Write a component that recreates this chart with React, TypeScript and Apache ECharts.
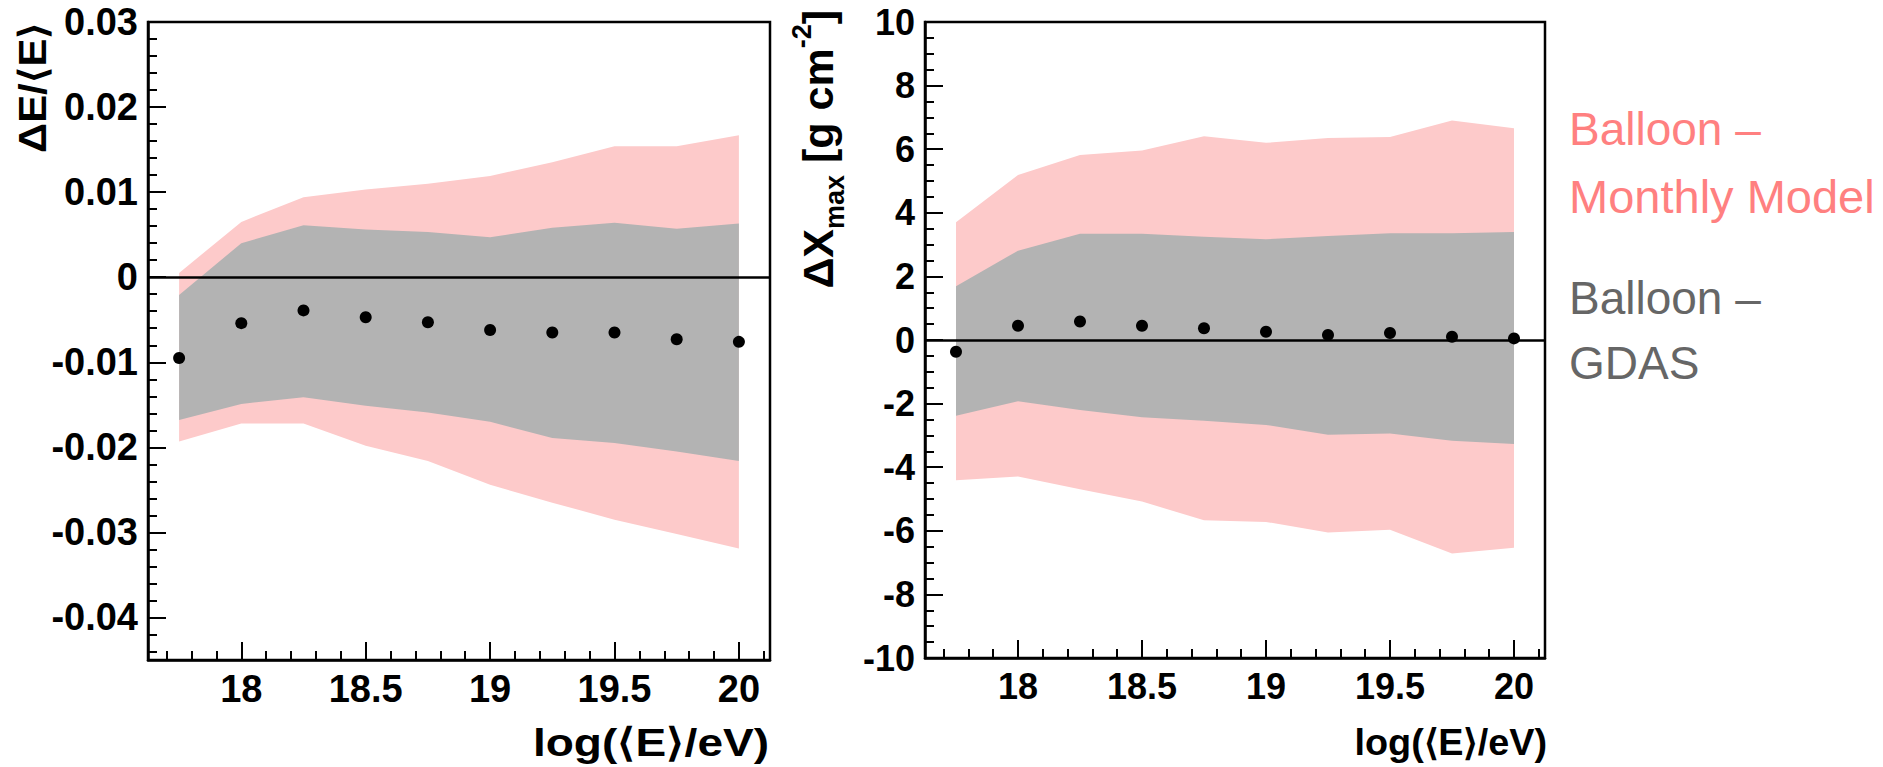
import React, { useEffect, useRef } from "react";
import * as echarts from "echarts";

// log(<E>/eV) bin centres
const energies = [17.75, 18, 18.25, 18.5, 18.75, 19, 19.25, 19.5, 19.75, 20];

// Left panel: ΔE/<E>
const dEMonthlyUpper = [0.0005, 0.0065, 0.0094, 0.0103, 0.011, 0.0119, 0.0135, 0.0154, 0.0154, 0.0167];
const dEMonthlyLower = [-0.0193, -0.0172, -0.0172, -0.0198, -0.0216, -0.0244, -0.0265, -0.0285, -0.0302, -0.0319];
const dEGdasUpper = [-0.0021, 0.004, 0.0061, 0.0056, 0.0053, 0.0047, 0.0058, 0.0064, 0.0057, 0.0063];
const dEGdasLower = [-0.0168, -0.0149, -0.0141, -0.0151, -0.0159, -0.017, -0.0189, -0.0195, -0.0205, -0.0216];
const dEMean = [-0.0095, -0.0054, -0.0039, -0.0047, -0.0053, -0.0062, -0.0065, -0.0065, -0.0073, -0.0076];

// Right panel: ΔXmax [g cm^-2]
const dXMonthlyUpper = [3.7, 5.19, 5.82, 5.96, 6.41, 6.2, 6.35, 6.38, 6.9, 6.66];
const dXMonthlyLower = [-4.41, -4.29, -4.69, -5.08, -5.67, -5.72, -6.05, -5.97, -6.71, -6.53];
const dXGdasUpper = [1.69, 2.81, 3.34, 3.34, 3.25, 3.17, 3.27, 3.36, 3.36, 3.4];
const dXGdasLower = [-2.38, -1.93, -2.2, -2.43, -2.54, -2.67, -2.98, -2.94, -3.17, -3.27];
const dXMean = [-0.37, 0.45, 0.58, 0.45, 0.37, 0.26, 0.16, 0.22, 0.1, 0.05];

// Tick labels
const xMajorTicks = [18, 18.5, 19, 19.5, 20];
const dEMajorTicks = [-0.04, -0.03, -0.02, -0.01, 0, 0.01, 0.02, 0.03];
const dXMajorTicks = [-10, -8, -6, -4, -2, 0, 2, 4, 6, 8, 10];

const X_MIN = 17.625;
const X_MAX = 20.125;

function minorTicks(from: number, to: number, step: number, majors: number[]) {
  const out: number[] = [];
  const n = Math.round((to - from) / step);
  for (let k = 0; k <= n; k++) {
    const v = Math.round((from + k * step) * 1e6) / 1e6;
    if (!majors.some((m) => Math.abs(m - v) < 1e-9)) out.push(v);
  }
  return out;
}

const xMinorTicks = minorTicks(17.7, 20.1, 0.1, xMajorTicks);
const dEMinorTicks = minorTicks(-0.044, 0.028, 0.002, dEMajorTicks);
const dXMinorTicks = minorTicks(-9.5, 9.5, 0.5, dXMajorTicks);

const FONT = "'Liberation Sans', Arial, Helvetica, sans-serif";
const PINK = "#fdcaca";
const GREY = "#b3b3b3";

function xAxes(gridIndex: number, fontSize: number) {
  const common = {
    type: "value",
    gridIndex,
    min: X_MIN,
    max: X_MAX,
    position: "bottom",
    splitLine: { show: false },
    minorTick: { show: false },
  };
  return [
    {
      ...common,
      axisLine: { show: true, onZero: false, lineStyle: { color: "#000", width: 2.5 } },
      axisTick: { show: true, inside: true, length: 18, customValues: xMajorTicks, lineStyle: { color: "#000", width: 2 } },
      axisLabel: {
        show: true,
        customValues: xMajorTicks,
        margin: 10,
        fontSize,
        fontWeight: "bold",
        fontFamily: FONT,
        color: "#000",
        formatter: (v: number) => String(v),
      },
    },
    {
      ...common,
      axisLine: { show: false, onZero: false },
      axisTick: { show: true, inside: true, length: 9, customValues: xMinorTicks, lineStyle: { color: "#000", width: 2 } },
      axisLabel: { show: false },
    },
  ];
}

function yAxes(gridIndex: number, min: number, max: number, majors: number[], minors: number[], fontSize: number) {
  const common = {
    type: "value",
    gridIndex,
    min,
    max,
    position: "left",
    splitLine: { show: false },
    minorTick: { show: false },
  };
  return [
    {
      ...common,
      axisLine: { show: true, onZero: false, lineStyle: { color: "#000", width: 2.5 } },
      axisTick: { show: true, inside: true, length: 18, customValues: majors, lineStyle: { color: "#000", width: 2 } },
      axisLabel: {
        show: true,
        customValues: majors,
        margin: 10,
        fontSize,
        fontWeight: "bold",
        fontFamily: FONT,
        color: "#000",
        formatter: (v: number) => String(v),
      },
    },
    {
      ...common,
      axisLine: { show: false, onZero: false },
      axisTick: { show: true, inside: true, length: 9, customValues: minors, lineStyle: { color: "#000", width: 2 } },
      axisLabel: { show: false },
    },
  ];
}

function band(name: string, xi: number, yi: number, lo: number[], hi: number[], color: string, z: number) {
  return {
    type: "custom",
    name,
    xAxisIndex: xi,
    yAxisIndex: yi,
    silent: true,
    z,
    data: energies.map((x, i) => [x, lo[i], hi[i]]),
    encode: { x: 0, y: [1, 2] },
    renderItem: (params: any, api: any) => {
      if (params.dataIndex !== 0) return null;
      const pts: number[][] = [];
      for (let i = 0; i < energies.length; i++) pts.push(api.coord([energies[i], hi[i]]));
      for (let i = energies.length - 1; i >= 0; i--) pts.push(api.coord([energies[i], lo[i]]));
      return { type: "polygon", shape: { points: pts }, style: { fill: color } };
    },
  };
}

function points(name: string, xi: number, yi: number, vals: number[]) {
  return {
    type: "scatter",
    name,
    xAxisIndex: xi,
    yAxisIndex: yi,
    z: 5,
    symbol: "circle",
    symbolSize: 12,
    itemStyle: { color: "#000", opacity: 1 },
    data: energies.map((x, i) => [x, vals[i]]),
    markLine: {
      silent: true,
      symbol: ["none", "none"],
      label: { show: false },
      lineStyle: { color: "#000", width: 2.5, type: "solid", opacity: 1 },
      data: [{ yAxis: 0 }],
    },
  };
}

export default function App() {
  const ref = useRef<HTMLDivElement>(null);

  useEffect(() => {
    if (!ref.current) return;
    const chart = echarts.init(ref.current, undefined, { renderer: "svg" });

    const option: any = {
      animation: false,
      backgroundColor: "#fff",
      grid: [
        { left: 148, top: 22, width: 622, height: 638, show: true, borderColor: "#000", borderWidth: 2.5, containLabel: false, outerBoundsMode: "none" },
        { left: 925, top: 22, width: 620, height: 636, show: true, borderColor: "#000", borderWidth: 2.5, containLabel: false, outerBoundsMode: "none" },
      ],
      xAxis: [...xAxes(0, 38), ...xAxes(1, 36)],
      yAxis: [
        ...yAxes(0, -0.045, 0.03, dEMajorTicks, dEMinorTicks, 38),
        ...yAxes(1, -10, 10, dXMajorTicks, dXMinorTicks, 36),
      ],
      series: [
        band("Balloon – Monthly Model", 0, 0, dEMonthlyLower, dEMonthlyUpper, PINK, 1),
        band("Balloon – GDAS", 0, 0, dEGdasLower, dEGdasUpper, GREY, 2),
        points("ΔE/⟨E⟩", 0, 0, dEMean),
        band("Balloon – Monthly Model", 2, 2, dXMonthlyLower, dXMonthlyUpper, PINK, 1),
        band("Balloon – GDAS", 2, 2, dXGdasLower, dXGdasUpper, GREY, 2),
        points("ΔXmax", 2, 2, dXMean),
      ],
      graphic: [
        {
          type: "text",
          x: 33,
          y: 22,
          rotation: Math.PI / 2,
          scaleX: 1.1,
          style: { text: "ΔE/⟨E⟩", fontSize: 38, fontWeight: "bold", fontFamily: FONT, fill: "#000", align: "right", verticalAlign: "middle" },
        },
        {
          type: "text",
          x: 769,
          y: 742,
          scaleX: 1.18,
          style: { text: "log(⟨E⟩/eV)", fontSize: 39, fontWeight: "bold", fontFamily: FONT, fill: "#000", align: "right", verticalAlign: "middle" },
        },
        {
          type: "text",
          x: 1547,
          y: 743,
          scaleX: 1.05,
          style: { text: "log(⟨E⟩/eV)", fontSize: 36, fontWeight: "bold", fontFamily: FONT, fill: "#000", align: "right", verticalAlign: "middle" },
        },
        {
          type: "text",
          x: 818,
          y: 10,
          rotation: Math.PI / 2,
          style: {
            text: "{m|ΔX}{s|max}{m| [g cm}{p|-2}{m|]}",
            align: "right",
            verticalAlign: "middle",
            fill: "#000",
            rich: {
              m: { fontSize: 43, fontWeight: "bold", fontFamily: FONT, fill: "#000", lineHeight: 60 },
              s: { fontSize: 27, fontWeight: "bold", fontFamily: FONT, fill: "#000", lineHeight: 27, verticalAlign: "bottom" },
              p: { fontSize: 27, fontWeight: "bold", fontFamily: FONT, fill: "#000", lineHeight: 12, verticalAlign: "top" },
            },
          },
        },
        { type: "text", x: 1569, y: 129, style: { text: "Balloon –", fontSize: 46, fontFamily: FONT, fill: "#ff8080", align: "left", verticalAlign: "middle" } },
        { type: "text", x: 1569, y: 196.5, style: { text: "Monthly Model", fontSize: 47, fontFamily: FONT, fill: "#ff8080", align: "left", verticalAlign: "middle" } },
        { type: "text", x: 1569, y: 298, style: { text: "Balloon –", fontSize: 46, fontFamily: FONT, fill: "#666666", align: "left", verticalAlign: "middle" } },
        { type: "text", x: 1569, y: 362.5, style: { text: "GDAS", fontSize: 46, fontFamily: FONT, fill: "#666666", align: "left", verticalAlign: "middle" } },
      ],
    };

    chart.setOption(option);
    return () => chart.dispose();
  }, []);

  return <div ref={ref} style={{ position: "absolute", left: 0, top: 0, width: 1883, height: 767 }} />;
}
